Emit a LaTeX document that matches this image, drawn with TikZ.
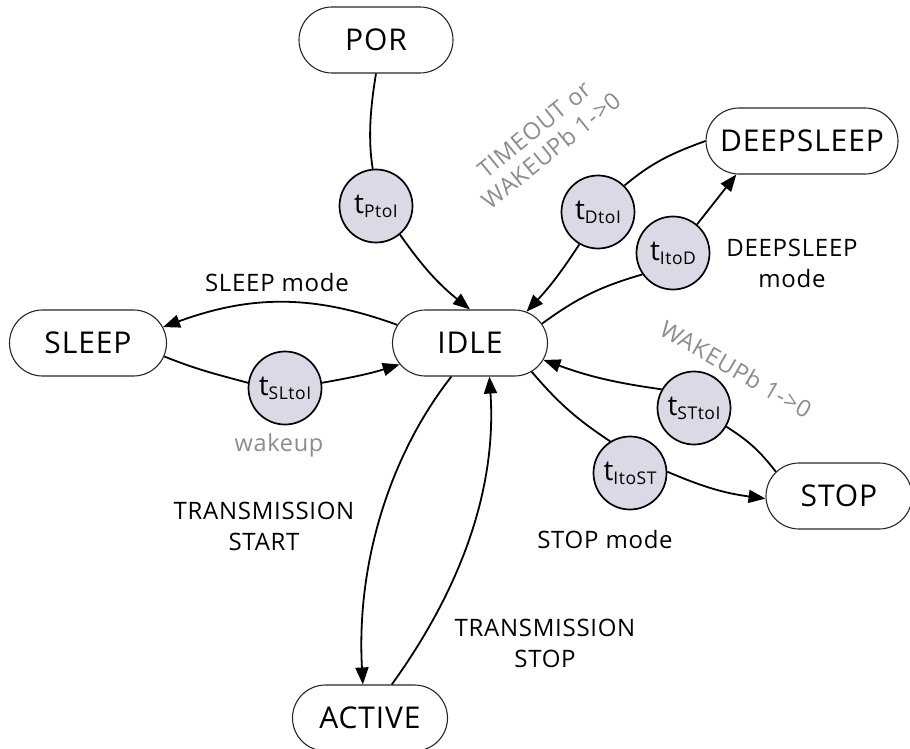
\documentclass[tikz,border=0pt]{standalone}
\usepackage{fontspec}
\setmainfont{Open Sans}[LetterSpace=3]
\usetikzlibrary{arrows.meta,shapes.misc}
\definecolor{circfill}{RGB}{221,216,230}
\definecolor{graytxt}{RGB}{140,140,140}
\newcommand\tsub[1]{{\fontsize{28}{28}\selectfont t}\raisebox{-4pt}{\fontsize{17.5}{17.5}\selectfont #1}}
\begin{document}
\begin{tikzpicture}[x=1pt,y=1pt,
 state/.style={rounded rectangle, draw=black!85, line width=1.1pt, minimum height=66pt, inner sep=0pt, font=\fontsize{30}{32}\selectfont},
 timer/.style={circle, draw=black, line width=1.7pt, fill=circfill, minimum size=73pt, inner sep=0pt},
 lbl/.style={font=\fontsize{24}{31}\selectfont, align=center, text=black},
 glbl/.style={font=\fontsize{23.5}{27}\selectfont, align=center, text=graytxt},
 edge/.style={line width=1.8pt, draw=black},
 arr/.style={edge, -{Triangle[length=17pt,width=13pt]}},
]
\useasboundingbox (0,0) rectangle (910,-749);
% states
\node[state, minimum width=154pt] (POR) at (376,-40) {POR};
\node[state, minimum width=192pt] (DEEP) at (802,-141) {DEEPSLEEP};
\node[state, minimum width=157pt] (SLEEP) at (88,-343) {SLEEP};
\node[state, minimum width=155pt] (IDLE) at (470,-343) {IDLE};
\node[state, minimum width=146pt] (STOP) at (839,-496) {STOP};
\node[state, minimum width=155pt] (ACTIVE) at (370,-718) {ACTIVE};
% timers
\node[timer] (tP) at (376,-206) {\tsub{PtoI}};
\node[timer] (tD) at (598,-212) {\tsub{DtoI}};
\node[timer] (tID) at (673,-253) {\tsub{ItoD}};
\node[timer] (tSL) at (285,-388) {\tsub{SLtoI}};
\node[timer] (tST) at (694,-408) {\tsub{STtoI}};
\node[timer] (tIST) at (630,-473) {\tsub{ItoST}};
% connectors
\draw[edge] (POR.south) .. controls (370,-110) and (368,-140) .. (tP.95);
\draw[arr] (tP.-50) to[bend right=8] (IDLE.north);
\draw[edge] (DEEP.west) to[out=200,in=40] (tD.45);
\draw[arr] (tD.-120) to[bend left=5] (IDLE.29);
\draw[edge] (IDLE.15) to[bend left=10] (tID.215);
\draw[arr] (tID.50) -- (DEEP.207);
\draw[arr] (IDLE.166) to[out=160,in=20] (SLEEP.12);
\draw[edge] (SLEEP.-10) to[out=-22,in=165] (tSL.172);
\draw[arr] (tSL.8) to[out=10,in=197] (IDLE.197);
\draw[edge] (IDLE.-25) to[bend right=8] (tIST.122);
\draw[arr] (tIST.2) to[bend right=8] (STOP.182);
\draw[edge] (STOP.159) to[bend right=10] (tST.-30);
\draw[arr] (tST.150) to[bend left=6] (IDLE.-13);
\draw[arr] (IDLE.-119) .. controls (392,-452) and (356,-560) .. (ACTIVE.102);
\draw[arr] (ACTIVE.57) .. controls (460,-590) and (497,-490) .. (IDLE.-60);
% labels
\node[lbl] (lsleep) at (277,-282) {SLEEP mode};
\node[glbl] (lwake) at (279,-445) {wakeup};
\node[lbl] (ldeep) at (792,-263) {DEEPSLEEP\\mode};
\node[lbl] (lstop) at (605,-539) {STOP mode};
\node[lbl] (ltstop) at (545,-643) {TRANSMISSION\\STOP};
\node[lbl] (ltstart) at (264,-526) {TRANSMISSION\\START};
\node[glbl, rotate=-30] (lwk) at (736,-369) {WAKEUPb 1->0};
\node[glbl, rotate=39] (ltime) at (543,-140) {TIMEOUT or\\WAKEUPb 1->0};
\end{tikzpicture}
\end{document}
